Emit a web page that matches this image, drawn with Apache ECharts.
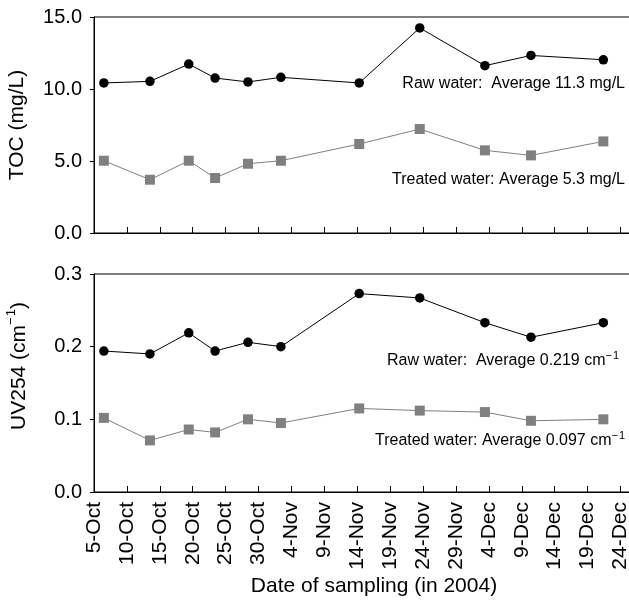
<!DOCTYPE html>
<html>
<head>
<meta charset="utf-8">
<script src="https://cdn.jsdelivr.net/npm/echarts@6/dist/echarts.min.js"></script>
<style>
html,body{margin:0;padding:0;background:#fff;}
#chart{width:629px;height:605px;}
</style>
</head>
<body>
<div id="chart"></div>
<script>
// Days after 5-Oct-2004 for each sampling
const sampleDay = [1.5, 8.5, 14.4, 18.4, 23.4, 28.4, 40.3, 49.5, 59.4, 66.4, 77.4];
const tocRaw = [10.42, 10.53, 11.73, 10.76, 10.49, 10.81, 10.42, 14.24, 11.62, 12.33, 12.03];
const tocTreated = [5.02, 3.70, 5.02, 3.82, 4.81, 5.02, 6.18, 7.22, 5.74, 5.39, 6.36];
const uvRaw = [0.194, 0.190, 0.219, 0.194, 0.206, 0.200, 0.273, 0.267, 0.233, 0.213, 0.233];
const uvTreated = [0.102, 0.071, 0.086, 0.082, 0.100, 0.095, 0.115, 0.112, 0.110, 0.098, 0.100];
const tickLabels = ['5-Oct','10-Oct','15-Oct','20-Oct','25-Oct','30-Oct','4-Nov','9-Nov','14-Nov','19-Nov','24-Nov','29-Nov','4-Dec','9-Dec','14-Dec','19-Dec','24-Dec'];
const tocTicks = [0, 5, 10, 15];
const uvTicks = [0, 0.1, 0.2, 0.3];

const FONT = 'Liberation Sans, Arial, Helvetica, sans-serif';
const pairs = (xs, ys) => xs.map((x, i) => [x, ys[i]]);

const chart = echarts.init(document.getElementById('chart'), null, {renderer: 'canvas'});

const xAxisBase = {
  type: 'value', min: 0, max: 81.6, interval: 5,
  axisLine: {show: true, lineStyle: {color: '#000', width: 1}},
  axisTick: {show: true, inside: true, length: 6, lineStyle: {color: '#000', width: 1}},
  splitLine: {show: false}
};

const yAxisBase = {
  type: 'value',
  axisLine: {show: true, onZero: false, lineStyle: {color: '#000', width: 1}},
  axisTick: {show: true, inside: false, length: 4, lineStyle: {color: '#000'}},
  splitLine: {show: false},
  nameLocation: 'middle',
  nameTextStyle: {fontFamily: FONT, fontSize: 21, color: '#000'},
  axisLabel: {fontFamily: FONT, fontSize: 20, color: '#000', margin: 12,
    formatter: v => v.toFixed(1)}
};

const rawStyle = {type: 'line', symbol: 'circle', symbolSize: 9.5,
  itemStyle: {color: '#000'}, lineStyle: {color: '#000', width: 1}, z: 3};
const trtStyle = {type: 'line', symbol: 'rect', symbolSize: 10,
  itemStyle: {color: '#808080'}, lineStyle: {color: '#808080', width: 1}, z: 2};

const annRich = {
  n: {fontFamily: FONT, fontSize: 16, color: '#000', lineHeight: 22},
  s: {fontFamily: FONT, fontSize: 11, color: '#000', lineHeight: 11, verticalAlign: 'top'}
};
const annot = (text, x, y) => ({
  type: 'text', x: x, y: y,
  style: {text: text, rich: annRich, fontFamily: FONT, fontSize: 16, fill: '#000', align: 'right', verticalAlign: 'middle'}
});

chart.setOption({
  animation: false,
  backgroundColor: '#fff',
  grid: [
    {left: 94, right: -2, top: 17, height: 216, show: true, borderColor: '#000', borderWidth: 1,
      backgroundColor: 'transparent', containLabel: false, outerBoundsMode: 'none'},
    {left: 94, right: -2, top: 274, height: 218, show: true, borderColor: '#000', borderWidth: 1,
      backgroundColor: 'transparent', containLabel: false, outerBoundsMode: 'none'}
  ],
  xAxis: [
    Object.assign({}, xAxisBase, {gridIndex: 0, axisLabel: {show: false}}),
    Object.assign({}, xAxisBase, {gridIndex: 1,
      name: 'Date of sampling (in 2004)', nameLocation: 'middle', nameGap: 84,
      nameTextStyle: {fontFamily: FONT, fontSize: 21, color: '#000', padding: [0, 0, 0, 23]},
      axisLabel: {show: true, rotate: 90, margin: 10, fontFamily: FONT, fontSize: 21, color: '#000',
        hideOverlap: false,
        formatter: v => (Math.abs(v / 5 - Math.round(v / 5)) < 1e-6 && v <= 80) ? tickLabels[Math.round(v / 5)] : ''}
    })
  ],
  yAxis: [
    Object.assign({}, yAxisBase, {gridIndex: 0, min: tocTicks[0], max: tocTicks[tocTicks.length - 1], interval: 5,
      name: 'TOC (mg/L)', nameGap: 66}),
    Object.assign({}, yAxisBase, {gridIndex: 1, min: uvTicks[0], max: uvTicks[uvTicks.length - 1], interval: 0.1,
      name: '{n|UV254 (cm}{s|\u2212\u200A1}{n|)}', nameGap: 61,
      nameTextStyle: {fontFamily: FONT, fontSize: 21, color: '#000', padding: [0, 0, 0, 34],
        rich: {
          n: {fontFamily: FONT, fontSize: 21, color: '#000', lineHeight: 28},
          s: {fontFamily: FONT, fontSize: 13, color: '#000', lineHeight: 13, verticalAlign: 'top'}
        }}})
  ],
  series: [
    Object.assign({}, rawStyle, {name: 'TOC raw', xAxisIndex: 0, yAxisIndex: 0, data: pairs(sampleDay, tocRaw)}),
    Object.assign({}, trtStyle, {name: 'TOC treated', xAxisIndex: 0, yAxisIndex: 0, data: pairs(sampleDay, tocTreated)}),
    Object.assign({}, rawStyle, {name: 'UV raw', xAxisIndex: 1, yAxisIndex: 1, data: pairs(sampleDay, uvRaw)}),
    Object.assign({}, trtStyle, {name: 'UV treated', xAxisIndex: 1, yAxisIndex: 1, data: pairs(sampleDay, uvTreated)})
  ],
  graphic: [
    annot('{n|Raw water:  Average 11.3 mg/L}', 625, 84),
    annot('{n|Treated water: Average 5.3 mg/L}', 625, 180),
    annot('{n|Raw water:  Average 0.219 cm}{s|\u2212\u200A1}', 619, 361),
    annot('{n|Treated water: Average 0.097 cm}{s|\u2212\u200A1}', 625, 441)
  ]
});
</script>
</body>
</html>
